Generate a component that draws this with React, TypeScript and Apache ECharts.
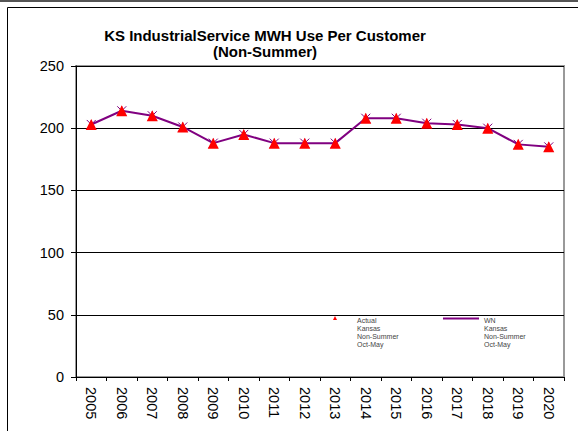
import React, { useEffect, useRef } from "react";
import * as echarts from "echarts";

const years = ["2005","2006","2007","2008","2009","2010","2011","2012","2013","2014","2015","2016","2017","2018","2019","2020"];
const actual = [203, 214, 210, 201, 188, 195, 188, 188, 188, 208, 208, 204, 203, 200, 187, 185];
const wn = [203, 214, 210, 201, 188, 195, 188, 188, 188, 208, 208, 204, 203, 200, 187, 185];
const yTicks = [0, 50, 100, 150, 200, 250];

const FONT = "Arial, 'Liberation Sans', sans-serif";
const STAR = "path://M0,0L10,10M10,0L0,10M5,0L5,10";
// legend icons: visible mark at the top of a tall box so the first text line aligns with it
const ACTUAL_ICON = "path://M2,0L4,4L0,4Z M19,32";
const WN_ICON = "path://M0,3L36,3L36,5L0,5Z M36,32";

export default function App() {
  const ref = useRef<HTMLDivElement>(null);
  useEffect(() => {
    const chart = echarts.init(ref.current!, null, { renderer: "svg" });
    const legendText = (n: string) => n + "\nKansas\nNon-Summer\nOct-May";
    const legendTextStyle = { fontSize: 7, color: "#444", lineHeight: 8, fontFamily: FONT };
    chart.setOption({
      animation: false,
      backgroundColor: "#fff",
      textStyle: { fontFamily: FONT },
      title: {
        text: "KS IndustrialService MWH Use Per Customer\n(Non-Summer)",
        left: 260,
        top: 22,
        textAlign: "center",
        textStyle: { fontSize: 15, fontWeight: "bold", color: "#000", lineHeight: 16, fontFamily: FONT },
      },
      graphic: [
        { type: "line", shape: { x1: 0, y1: 1, x2: 578, y2: 1 }, style: { stroke: "#555", lineWidth: 2 }, silent: true },
        { type: "rect", shape: { x: 7.5, y: 7.5, width: 600, height: 500 }, style: { stroke: "#000", fill: "none", lineWidth: 1 }, silent: true },
      ],
      legend: [
        {
          data: [{ name: "Actual", icon: ACTUAL_ICON }], left: 328, top: 311, itemWidth: 19, itemHeight: 32, itemGap: 0,
          formatter: legendText,
          itemStyle: { borderWidth: 0 },
          textStyle: legendTextStyle,
        },
        {
          data: [{ name: "WN", icon: WN_ICON }], left: 438, top: 311, itemWidth: 36, itemHeight: 32, itemGap: 0,
          formatter: legendText,
          itemStyle: { borderWidth: 0 },
          textStyle: legendTextStyle,
        },
      ],
      grid: { left: 76, right: 14, top: 66, bottom: 54, show: true, borderColor: "#999", borderWidth: 2, backgroundColor: "transparent" },
      xAxis: {
        type: "category",
        data: years,
        boundaryGap: true,
        axisLine: { lineStyle: { color: "#000", width: 1 } },
        axisTick: { show: true, length: 4, lineStyle: { color: "#000" } },
        axisLabel: { rotate: -90, fontSize: 14.5, color: "#000", margin: 10, fontFamily: FONT },
        splitLine: { show: false },
      },
      yAxis: {
        type: "value",
        min: yTicks[0],
        max: yTicks[yTicks.length - 1],
        interval: 50,
        axisLine: { show: true, lineStyle: { color: "#000", width: 1 } },
        axisTick: { show: true, length: 5, lineStyle: { color: "#000" } },
        axisLabel: { fontSize: 14.5, color: "#000", margin: 12, fontFamily: FONT },
        splitLine: { show: true, lineStyle: { color: "#000", width: 1 } },
      },
      series: [
        {
          name: "WN",
          type: "line",
          data: wn,
          symbol: STAR,
          symbolSize: 9,
          showSymbol: true,
          itemStyle: { color: "#800080", borderColor: "#800080", borderWidth: 1 },
          lineStyle: { color: "#800080", width: 2 },
          z: 2,
        },
        {
          name: "Actual",
          type: "line",
          data: actual,
          symbol: "triangle",
          symbolSize: 11,
          itemStyle: { color: "#ff0000" },
          lineStyle: { width: 0, opacity: 0 },
          z: 3,
        },
      ],
    });
    return () => chart.dispose();
  }, []);
  return (
    <div
      ref={ref}
      style={{ position: "fixed", left: 0, top: 0, width: 578, height: 431 }}
    />
  );
}
